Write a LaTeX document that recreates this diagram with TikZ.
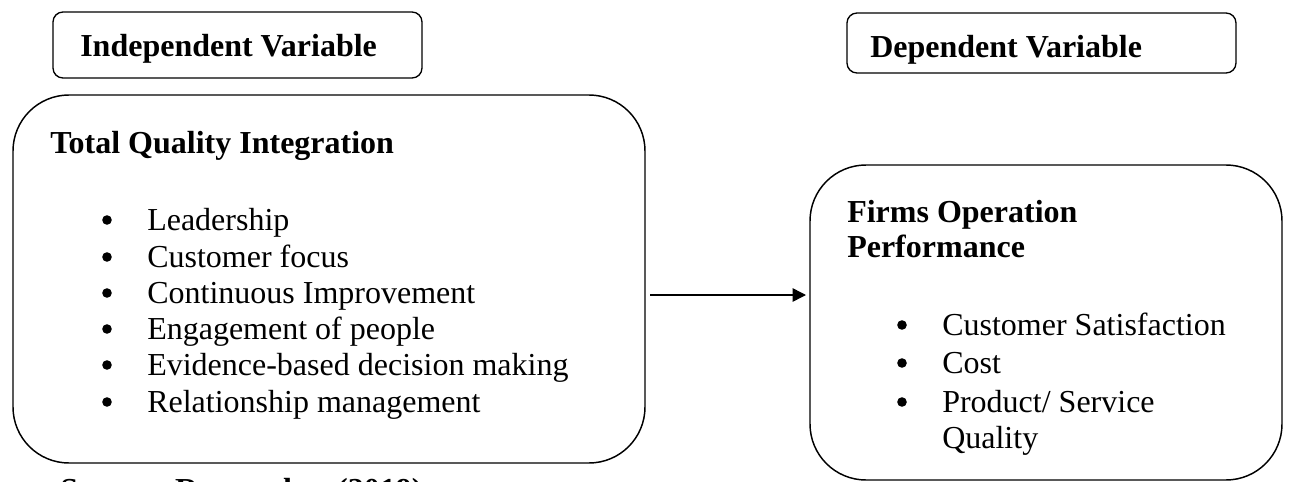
\documentclass[tikz,border=0pt]{standalone}
\usepackage{fontspec}
\setmainfont{Liberation Serif}
\usetikzlibrary{fit,arrows.meta}
\begin{document}
\begin{tikzpicture}[x=0.75pt,y=-0.75pt,
  smallbox/.style={draw, line width=1pt, rounded corners=7.5pt, inner sep=0pt},
  bigbox/.style={draw, line width=1.1pt, rounded corners=42pt, inner sep=0pt},
  txt/.style={anchor=base west, inner sep=0pt, font=\fontsize{24}{27.6}\selectfont},
  head/.style={txt, font=\fontsize{24}{27.6}\selectfont\bfseries},
  bul/.style={circle, fill=black, inner sep=0pt, minimum size=7.2pt},
  link/.style={line width=1.1pt, -{Triangle[length=10pt,width=10pt]}}]
\useasboundingbox (0,0) rectangle (1289,482);
\clip (0,0) rectangle (1289,482);
% header boxes
\node[smallbox, fit={(53,12) (422,78)}] (ivbox) {};
\node[head] (ivtext) at (80,56) {Independent Variable};
\node[smallbox, fit={(847,13) (1236,73)}] (dvbox) {};
\node[head] (dvtext) at (870,57) {Dependent Variable};
% left big box
\node[bigbox, fit={(13,95) (645,463)}] (left) {};
\node[head] (lt) at (50,153) {Total Quality Integration};
\foreach \y/\t [count=\i] in {230/Leadership, 267/Customer focus, 303/Continuous Improvement, 339/Engagement of people, 375/Evidence-based decision making, 412/Relationship management}{
  \node[bul] (lb\i) at (107,\y-10) {};
  \node[txt] (li\i) at (147,\y) {\t};
}
% right big box
\node[bigbox, fit={(810,165) (1282,480)}] (right) {};
\node[head] (rt1) at (847,222) {Firms Operation};
\node[head] (rt2) at (847,257) {Performance};
\foreach \y/\t [count=\i] in {335/{Customer Satisfaction}, 373/{Cost}, 412/{Product/ Service}}{
  \node[bul] (rb\i) at (902,\y-10) {};
  \node[txt] (ri\i) at (942,\y) {\t};
}
\node[txt] (ri4) at (942,448) {Quality};
% arrow
\coordinate (a1) at (650,295);
\coordinate (a2) at (806,295);
\draw[link] (a1) -- (a2);
% source (cut by the lower edge, as in the reference)
\node[head] (src) at (60,500) {Source: Researcher (2019)};
\end{tikzpicture}
\end{document}
